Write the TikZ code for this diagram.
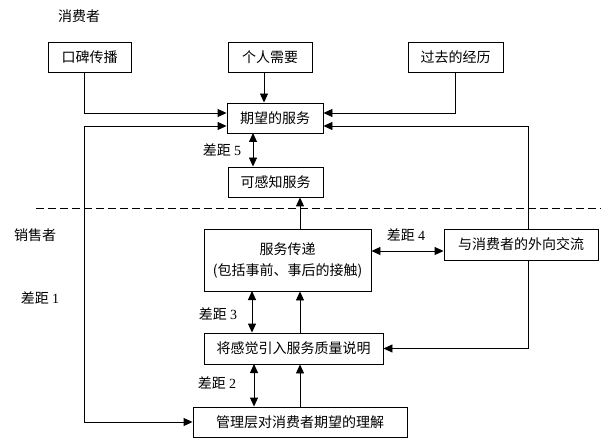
\documentclass[tikz,border=0pt]{standalone}
\usepackage{fontspec}
\setmainfont{Noto Sans CJK SC}
\newfontfamily\numfont{Liberation Serif}
\usetikzlibrary{arrows.meta,calc}
\begin{document}
\begin{tikzpicture}[x=1bp,y=-1bp, line width=0.9bp,
 box/.style={draw, rectangle, inner sep=0pt, font=\fontsize{14bp}{21bp}\selectfont, align=center},
 lbl/.style={inner sep=0pt, font=\fontsize{14bp}{17bp}\selectfont},
 arr/.style={-{Triangle[length=9bp,width=8bp]}},
 darr/.style={{Triangle[length=9bp,width=8bp]}-{Triangle[length=9bp,width=8bp]}},
 sep/.style={dash pattern=on 8bp off 4bp}
]
\useasboundingbox (0,0) rectangle (601,438);
% boxes
\node[box, minimum width=83bp, minimum height=30bp] (wom) at (89.5,57) {口碑传播};
\node[box, minimum width=84bp, minimum height=30bp] (need) at (270,57) {个人需要};
\node[box, minimum width=95bp, minimum height=30bp] (past) at (455.5,57) {过去的经历};
\node[box, minimum width=96bp, minimum height=30bp] (exp) at (275,118) {期望的服务};
\node[box, minimum width=95bp, minimum height=30bp] (perc) at (275.5,182) {可感知服务};
\node[box, minimum width=167bp, minimum height=62bp] (deliv) at (287.5,260) {服务传递\\(包括事前、事后的接触)};
\node[box, minimum width=154bp, minimum height=31bp] (ext) at (521,244.5) {与消费者的外向交流};
\node[box, minimum width=179bp, minimum height=31bp] (spec) at (293.5,348.5) {将感觉引入服务质量说明};
\node[box, minimum width=214bp, minimum height=30bp] (mgmt) at (300,422) {管理层对消费者期望的理解};
% labels
\node[lbl] (consumer) at (79,16) {消费者};
\node[lbl] (seller) at (35,235) {销售者};
\node[lbl] (g1) at (40,298) {差距 {\numfont 1}};
\node[lbl] (g5) at (222,150) {差距 {\numfont 5}};
\node[lbl] (g4) at (406,235) {差距 {\numfont 4}};
\node[lbl] (g3) at (218,314) {差距 {\numfont 3}};
\node[lbl] (g2) at (217,383) {差距 {\numfont 2}};
% helper coordinates
\coordinate (xl) at (84,0);
\coordinate (xm) at (300,0);
\coordinate (xr) at (528,0);
\coordinate (l1) at (0,0);
\coordinate (r1) at (601,0);
% separator
\draw[sep] (36,208) coordinate (s0) -- (601,208) coordinate (s1);
% consumer side
\draw[arr] (xl |- wom.south) |- ($(exp.west)+(0,-5)$);
\draw[arr] (264,72) coordinate (n0) -- (n0 |- exp.north);
\draw[arr] (past.south) |- ($(exp.east)+(0,-5)$);
\draw[darr] ($(exp.west)+(0,8)$) -| (xl |- mgmt.west) -- (mgmt.west);
\draw[arr] (xr |- ext.north) |- ($(exp.east)+(0,8)$);
\draw[arr] (xr |- ext.south) |- (spec.east);
\draw[darr] (253,133) coordinate (a5) -- (a5 |- perc.north);
\draw[arr] (xm |- deliv.north) -- (xm |- perc.south);
\draw[darr] (deliv.east |- 0,251) -- (ext.west |- 0,251);
\draw[darr] (252,291) coordinate (a3) -- (a3 |- spec.north);
\draw[arr] (xm |- spec.north) -- (xm |- deliv.south);
\draw[darr] (254,364) coordinate (a2) -- (a2 |- mgmt.north);
\draw[arr] (xm |- mgmt.north) -- (xm |- spec.south);
\end{tikzpicture}
\end{document}
